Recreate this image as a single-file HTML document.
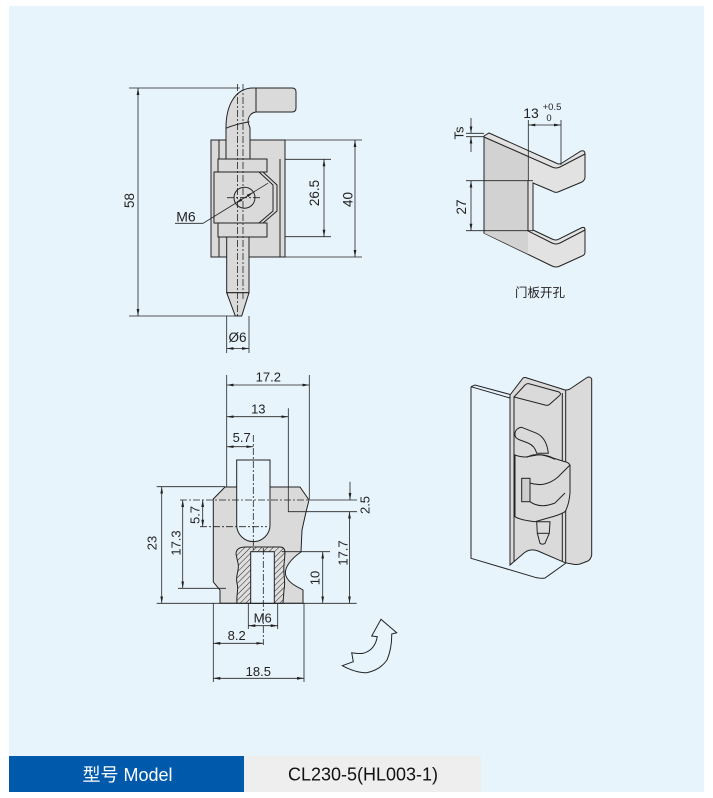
<!DOCTYPE html>
<html><head><meta charset="utf-8"><style>
html,body{margin:0;padding:0;background:#fff;}
svg{display:block;}
text{font-family:"Liberation Sans","Noto Sans CJK SC",sans-serif;fill:#222;}
</style></head><body>
<svg width="713" height="798" viewBox="0 0 713 798" xmlns="http://www.w3.org/2000/svg">
<defs>
<marker id="ar" viewBox="0 0 10 10" refX="10" refY="5" markerWidth="7" markerHeight="7" orient="auto-start-reverse" markerUnits="userSpaceOnUse"><path d="M0,3 L10,5 L0,7 z" fill="#222"/></marker>
<pattern id="hat" patternUnits="userSpaceOnUse" width="4" height="4" patternTransform="rotate(45)"><rect width="4" height="4" fill="#dedede"/><line x1="0" y1="0" x2="0" y2="4" stroke="#222" stroke-width="1"/></pattern>
</defs>
<rect x="0" y="0" width="713" height="798" fill="#fff"/>
<rect x="9" y="6" width="695" height="786" fill="#e8f4fc"/>

<!-- ================= FIGURE 1 ================= -->
<g stroke="#222" stroke-width="0.8" fill="none">
<line x1="129" y1="88" x2="240" y2="88"/>
<line x1="129" y1="316" x2="236" y2="316"/>
<line x1="138" y1="88" x2="138" y2="316" marker-start="url(#ar)" marker-end="url(#ar)"/>
<line x1="285" y1="140" x2="362" y2="140"/>
<line x1="285" y1="257" x2="362" y2="257"/>
<line x1="355" y1="140" x2="355" y2="257" marker-start="url(#ar)" marker-end="url(#ar)"/>
<line x1="280" y1="159.3" x2="331" y2="159.3"/>
<line x1="267" y1="236.7" x2="331" y2="236.7"/>
<line x1="324" y1="159.3" x2="324" y2="236.7" marker-start="url(#ar)" marker-end="url(#ar)"/>
<line x1="226.7" y1="316" x2="226.7" y2="353"/>
<line x1="249" y1="316" x2="249" y2="353"/>
<line x1="226.7" y1="348.5" x2="249" y2="348.5" marker-start="url(#ar)" marker-end="url(#ar)"/>
</g>
<g stroke="#222" stroke-width="1" fill="#dadada">
<rect x="211" y="140" width="74" height="117"/>
<path d="M226,159 L226,128 C226,104 236,88 253,88 L292,88 Q296,88 296,92 L296,108 Q296,112 292,112 L257,112 C251,112 248,117 248,122 L250,128 L250,159 Z"/>
<path d="M226,128.3 C233,125 242,123 249.5,121.7" fill="none"/>
<line x1="256" y1="88" x2="256" y2="112"/>
<line x1="219" y1="140" x2="219" y2="159"/>
<line x1="219" y1="237" x2="219" y2="257"/>
<line x1="280" y1="159" x2="280" y2="257"/>
<path d="M214,172 L214,223 L263,223 L277,211 L277,185 L263,172 Z"/>
<polyline points="259,172 273,185 273,211 259,223" fill="none"/>
<rect x="218" y="159" width="49" height="13"/>
<rect x="218" y="223" width="49" height="14"/>
<circle cx="244.5" cy="197.7" r="10.5"/>
<rect x="226.7" y="237" width="22.3" height="55.7"/>
<polygon points="226.7,292.7 249,292.7 241.7,316 235.3,316"/>
</g>
<g stroke="#222" stroke-width="0.8" fill="none" stroke-dasharray="7,2,2,2">
<line x1="237.5" y1="84" x2="237.5" y2="318"/>
<line x1="243" y1="84" x2="243" y2="300"/>
<line x1="227" y1="197.7" x2="262" y2="197.7"/>
</g>
<g stroke="#222" stroke-width="0.8" fill="none">
<polyline points="175,223.3 203,223.3 268,183.2"/>
</g>
<polygon points="253.4,192.2 248.1,197.1 246.7,194.7" fill="#222"/>
<polygon points="235.6,203.2 242.3,200.7 240.9,198.3" fill="#222"/>
<text x="186" y="221.5" font-size="14" text-anchor="middle">M6</text>
<text font-size="13.5" text-anchor="middle" transform="translate(129,200.5) rotate(-90)" dy="4.8">58</text>
<text font-size="13.5" text-anchor="middle" transform="translate(314,193) rotate(-90)" dy="4.8">26.5</text>
<text font-size="13.5" text-anchor="middle" transform="translate(347.5,199.5) rotate(-90)" dy="4.8">40</text>
<text x="237.5" y="342" font-size="13.5" text-anchor="middle">Ø6</text>

<!-- ================= FIGURE 2 ================= -->
<g stroke="#222" stroke-width="1">
<path d="M484,136 L489,133 L556,163 Q559,165 562,163 L581,151 Q585,150 585,154 L585,177 Q585,180 582,182 L558,192 Q555,193 552,191 L533,183 L533,230 L552,239 Q556,241 559,239 L581,228 Q585,226 585,230 L585,252 Q585,255 582,256 L560,266 Q556,268 552,266 L484,233 Z" fill="#e2e2e2"/>
<path d="M484,136 L528,155 L528,254 L484,233 Z" fill="#d2d2d2" stroke="none"/>
<path d="M484,137 L552,167 Q556,169 560,167 L585,154" fill="none"/>
<path d="M528,181 L528,231 L552,243 Q556,245 560,243 L585,230" fill="none"/>
<line x1="484" y1="136" x2="484" y2="233"/>
</g>
<g stroke="#222" stroke-width="0.8" fill="none">
<line x1="528.3" y1="120" x2="528.3" y2="181"/>
<line x1="561" y1="120" x2="561" y2="165"/>
<line x1="528.3" y1="125" x2="561" y2="125" marker-start="url(#ar)" marker-end="url(#ar)"/>
<line x1="466" y1="133.3" x2="484" y2="133.3"/>
<line x1="466" y1="136.7" x2="484" y2="136.7"/>
<line x1="471" y1="118" x2="471" y2="133.3" marker-end="url(#ar)"/>
<line x1="471" y1="152" x2="471" y2="136.7" marker-end="url(#ar)"/>
<line x1="466" y1="180.7" x2="533" y2="180.7"/>
<line x1="466" y1="230.7" x2="533" y2="230.7"/>
<line x1="471" y1="180.7" x2="471" y2="230.7" marker-start="url(#ar)" marker-end="url(#ar)"/>
</g>
<text x="531" y="118" font-size="14" text-anchor="middle">13</text>
<text x="552" y="110" font-size="9.5" text-anchor="middle">+0.5</text>
<text x="549" y="121" font-size="9.5" text-anchor="middle">0</text>
<text font-size="13" text-anchor="middle" transform="translate(459,133) rotate(-90)" dy="4.6">Ts</text>
<text font-size="13.5" text-anchor="middle" transform="translate(461,207) rotate(-90)" dy="4.8">27</text>
<text x="540" y="297" font-size="12.5" text-anchor="middle">门板开孔</text>

<!-- ================= FIGURE 3 ================= -->
<g stroke="#222" stroke-width="1">
<path d="M225,487 L300,487 L309,500 L306,512 L302,530 L301,552 C292,558 283,568 286,576 C289,584 300,588 303,590 L303,603.3 L220,603.3 L220,590 L213.3,582 L213.3,499 Z" fill="#dadada"/>
<path d="M236.7,460 L270,460 L270,525 A16.65,16.65 0 0 1 236.7,525 Z" fill="#e8f4fc"/>
<path d="M236,554 C236,549 240,547 246,547 L280,547 C284,547 285,550 285,553 L284,565 C283,575 286,582 284,590 L283,603.3 L237,603.3 C236,595 239,590 237,583 C235,575 240,570 238,563 Z" fill="url(#hat)"/>
<rect x="250.7" y="551.7" width="23.6" height="51.6" fill="#e8f4fc"/>
</g>
<g stroke="#222" stroke-width="0.8" fill="none" stroke-dasharray="7,2,2,2">
<line x1="253.3" y1="435" x2="253.3" y2="550"/>
<line x1="263.3" y1="548" x2="263.3" y2="645"/>
<line x1="180" y1="500" x2="310" y2="500"/>
<line x1="200" y1="526.7" x2="267" y2="526.7"/>
</g>
<g stroke="#222" stroke-width="0.8" fill="none">
<line x1="226.7" y1="375" x2="226.7" y2="487"/>
<line x1="309.3" y1="375" x2="309.3" y2="500"/>
<line x1="226.7" y1="385" x2="309.3" y2="385" marker-start="url(#ar)" marker-end="url(#ar)"/>
<polyline points="288.3,408.3 288.3,511.7 357,511.7"/>
<line x1="226.7" y1="416.7" x2="288.3" y2="416.7" marker-start="url(#ar)" marker-end="url(#ar)"/>
<line x1="226.7" y1="446.7" x2="253.3" y2="446.7" marker-start="url(#ar)" marker-end="url(#ar)"/>
<line x1="310" y1="500" x2="357" y2="500"/>
<line x1="156.7" y1="486.7" x2="225" y2="486.7"/>
<line x1="156.7" y1="603.3" x2="356.7" y2="603.3"/>
<line x1="178" y1="588.3" x2="226" y2="588.3"/>
<line x1="281.7" y1="551.7" x2="330" y2="551.7"/>
<line x1="161.7" y1="486.7" x2="161.7" y2="603.3" marker-start="url(#ar)" marker-end="url(#ar)"/>
<line x1="182.7" y1="500" x2="182.7" y2="588.3" marker-start="url(#ar)" marker-end="url(#ar)"/>
<line x1="202.7" y1="500" x2="202.7" y2="526.7" marker-start="url(#ar)" marker-end="url(#ar)"/>
<line x1="350" y1="481.7" x2="350" y2="500" marker-end="url(#ar)"/>
<line x1="349.5" y1="511.7" x2="349.5" y2="603.3" marker-start="url(#ar)" marker-end="url(#ar)"/>
<line x1="322.7" y1="551.7" x2="322.7" y2="603.3" marker-start="url(#ar)" marker-end="url(#ar)"/>
<line x1="213.3" y1="603.3" x2="213.3" y2="682"/>
<line x1="304" y1="603.3" x2="304" y2="682"/>
<line x1="248.3" y1="603.3" x2="248.3" y2="629"/>
<line x1="277.7" y1="603.3" x2="277.7" y2="629"/>
<line x1="248.3" y1="625.7" x2="277.7" y2="625.7" marker-start="url(#ar)" marker-end="url(#ar)"/>
<line x1="213.3" y1="643.3" x2="263.3" y2="643.3" marker-start="url(#ar)" marker-end="url(#ar)"/>
<line x1="213.3" y1="678.3" x2="304" y2="678.3" marker-start="url(#ar)" marker-end="url(#ar)"/>
</g>
<text x="268.3" y="381.5" font-size="13" text-anchor="middle">17.2</text>
<text x="258.3" y="413.5" font-size="13" text-anchor="middle">13</text>
<text x="241.7" y="442" font-size="13" text-anchor="middle">5.7</text>
<text x="262.7" y="622.5" font-size="13" text-anchor="middle">M6</text>
<text x="236.7" y="640" font-size="13" text-anchor="middle">8.2</text>
<text x="258.3" y="676" font-size="13" text-anchor="middle">18.5</text>
<text font-size="13" text-anchor="middle" transform="translate(151.7,543) rotate(-90)" dy="4.6">23</text>
<text font-size="13" text-anchor="middle" transform="translate(176,543) rotate(-90)" dy="4.6">17.3</text>
<text font-size="13" text-anchor="middle" transform="translate(195,515) rotate(-90)" dy="4.6">5.7</text>
<text font-size="13" text-anchor="middle" transform="translate(365,505) rotate(-90)" dy="4.6">2.5</text>
<text font-size="13" text-anchor="middle" transform="translate(343,553) rotate(-90)" dy="4.6">17.7</text>
<text font-size="13" text-anchor="middle" transform="translate(315,578) rotate(-90)" dy="4.6">10</text>

<!-- curved arrow -->
<path d="M342.3,665.7 L353.3,661.7 L351.7,652.7 Q360,654 363.3,653.3 Q375,650 377.3,636.7 L371.7,636 L381,619.3 L396.7,632.7 L391.7,634 Q392,648 387,660 Q380,670 366.7,672.7 Q356,673 342.3,665.7 Z" fill="none" stroke="#222" stroke-width="1"/>

<!-- ================= FIGURE 4 (3D) ================= -->
<g stroke="#222" stroke-width="1" fill="none">
<path d="M471,386.7 L471,558.3 L533,576.7 Q540,579 545,578 L566,563"/>
<path d="M471,386.7 L475,385 L512,395"/>
<line x1="471" y1="386.7" x2="510" y2="398"/>
<path d="M510,395 L523,378 Q525,377 527,378 L562,389 Q566,391 570,389 L587,377.5 Q590,376 591.7,379 L591.7,555 Q591,559 588,561 L580,564 Q576,565 572,564 L565,562.7 L538,551 Q530,548 524,553 L510,565 Z" fill="#dadada"/>
<path d="M514,397 L525,385 Q527,383 530,384 L559,392 Q562,394 559,396 L550,404 Q548,406 545,405 Z"/>
<line x1="514" y1="397" x2="514" y2="562"/>
<line x1="562.3" y1="393" x2="562.3" y2="561"/>
<line x1="565.7" y1="390" x2="565.7" y2="562.7"/>
<path d="M521.7,427.3 L536.7,433.3 Q546.7,438 548.3,453.3 L536.7,453.3 Q535,446 528,443 L520,440 Q514,438 515,433 Q516,428 521.7,427.3 Z" fill="#dadada"/>
<path d="M515,455 L515,516.7 Q520,520 535,521.7 L548,518 Q560,515 565,511.7 Q569,505 570,493 L570,465 Q568,462 565,461.7 L553,458 Q545,454 537,455 L526,457 Q520,457 515,455 Z" fill="#dadada"/>
<rect x="521.7" y="478.3" width="8.3" height="23.4" fill="#cfcfcf"/>
<path d="M530,483 Q545,488 558,477 L570,465"/>
<path d="M530,501.7 Q540,509 555,503 L565,493"/>
<path d="M526.7,457.3 Q537,451 555,459.3"/>
<path d="M536.7,521.7 L537.3,533.3 L540,543.3 Q542.5,545 545,543.3 L549.3,533.3 L550,521.7 Z" fill="#dadada"/>
<line x1="537.3" y1="533.3" x2="549.3" y2="533.3"/>
</g>

<!-- ================= BOTTOM BAR ================= -->
<rect x="9" y="756" width="235" height="36" fill="#0059ab"/>
<rect x="244" y="756" width="237" height="36" fill="#eeeeee"/>
<text x="127.5" y="781" font-size="18" text-anchor="middle" style="fill:#fff">型号 Model</text>
<text x="363" y="780.5" font-size="18" text-anchor="middle" style="fill:#111">CL230-5(HL003-1)</text>
</svg>
</body></html>
